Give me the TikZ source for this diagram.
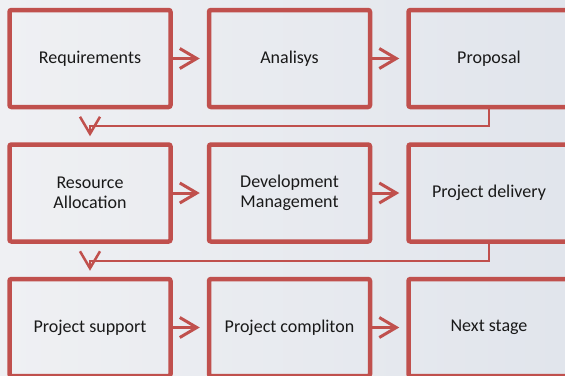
\documentclass[tikz,border=0pt]{standalone}
\usepackage{fontspec}
\setmainfont{Carlito}
\usetikzlibrary{arrows.meta}
\definecolor{boxred}{HTML}{C0504D}
\definecolor{bgleft}{HTML}{EFF0F3}
\definecolor{bgright}{HTML}{E1E5EC}
\tikzset{
	stage/.style={draw=boxred, line width=4.5pt, rounded corners=2pt, minimum width=161pt, minimum height=97pt, align=center, text=black!90, font=\fontsize{18}{20}\selectfont},
	next/.style={draw=boxred, line width=3pt, -{Straight Barb[length=17pt,width=20pt]}, shorten >=7pt},
	flow/.style={draw=boxred, line width=2pt, -{Straight Barb[length=17pt,width=20pt,line width=2.5pt]}}
}
\begin{document}
\begin{tikzpicture}[x=1pt, y=-1pt]
	      	\useasboundingbox (0,0) rectangle (565,375);
	      	\clip (0,0) rectangle (565,375);
	      	\shade[left color=bgleft, right color=bgright] (0,0) rectangle (565,375);
	      	\node[stage] (req) at (90,58.5) {Requirements};
	      	\node[stage] (ana) at (289.5,58.5) {Analisys};
	      	\node[stage] (pro) at (489,58.5) {Proposal};
	      	\node[stage] (res) at (90,193) {Resource\\Allocation};
	      	\node[stage] (dev) at (289.5,193) {Development\\Management};
	      	\node[stage] (del) at (489,193) {Project delivery};
	      	\node[stage] (sup) at (90,327.5) {Project support};
	      	\node[stage] (com) at (289.5,327.5) {Project compliton};
	      	\node[stage] (nxt) at (489,327.5) {Next stage};
	      	\draw[next] (req) -- (ana);
	      	\draw[next] (ana) -- (pro);
	      	\draw[next] (res) -- (dev);
	      	\draw[next] (dev) -- (del);
	      	\draw[next] (sup) -- (com);
	      	\draw[next] (com) -- (nxt);
	      	\draw[flow] (pro.south) -- ++(0,17) -| ([yshift=6pt]res.north);
	      	\draw[flow] (del.south) -- ++(0,17) -| ([yshift=6pt]sup.north);
	      \end{tikzpicture}
\end{document}
